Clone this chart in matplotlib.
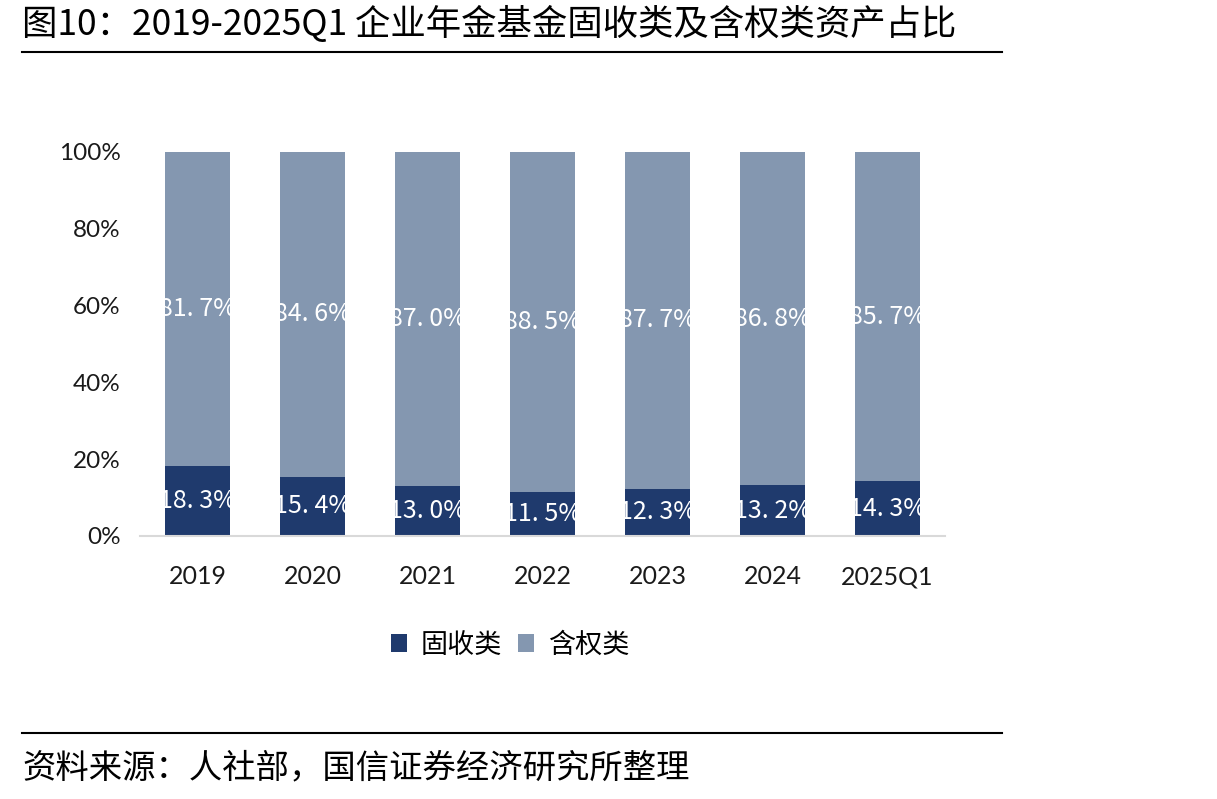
import matplotlib
matplotlib.use("Agg")
import matplotlib.pyplot as plt
from matplotlib.patches import Patch
from matplotlib.lines import Line2D

plt.rcParams['font.family'] = ['Noto Sans CJK SC', 'DejaVu Sans']

categories = ["2019", "2020", "2021", "2022", "2023", "2024", "2025Q1"]
fixed_income = [18.3, 15.4, 13.0, 11.5, 12.3, 13.2, 14.3]
equity = [81.7, 84.6, 87.0, 88.5, 87.7, 86.8, 85.7]
y_ticks = [0, 20, 40, 60, 80, 100]
series_names = ["固收类", "含权类"]
title = "图10：2019-2025Q1 企业年金基金固收类及含权类资产占比"
source = "资料来源：人社部，国信证券经济研究所整理"

c_dark = "#1F3A6D"
c_light = "#8497B0"

W, H = 1217, 799
fig = plt.figure(figsize=(W / 100, H / 100), dpi=100)

def fx(px):
    return px / W

def fy(py):
    return 1 - py / H

ax = fig.add_axes([fx(140), fy(536), fx(945) - fx(140), fy(152) - fy(536)])
x = list(range(len(categories)))
bw = 0.565
b1 = ax.bar(x, fixed_income, width=bw, color=c_dark, zorder=2)
b2 = ax.bar(x, equity, width=bw, bottom=fixed_income, color=c_light, zorder=2)

def fmt(v):
    return f"{v:.1f}%".replace(".", ". ")

for bars, vals, bottoms in ((b1, fixed_income, [0] * len(x)), (b2, equity, fixed_income)):
    for rect, v, b in zip(bars, vals, bottoms):
        t = ax.text(rect.get_x() + rect.get_width() / 2, b + v / 2, fmt(v),
                    ha="center", va="center", color="white", fontsize=18, zorder=3)
        t.set_clip_path(rect)

ax.set_xlim(-0.5, len(x) - 0.5)
ax.set_ylim(0, 100)
ax.set_yticks(y_ticks)
ax.set_yticklabels([f"{v}%" for v in y_ticks], fontfamily="Lato", fontsize=17.5, color="#1a1a1a")
ax.set_xticks(x)
ax.set_xticklabels(categories, fontfamily="Lato", fontsize=18, color="#1a1a1a")
ax.tick_params(axis="both", length=0)
ax.tick_params(axis="x", pad=21)
ax.tick_params(axis="y", pad=14)
for s in ("top", "right", "left"):
    ax.spines[s].set_visible(False)
ax.spines["bottom"].set_color("#D9D9D9")
ax.spines["bottom"].set_linewidth(1.5)

handles = [Patch(facecolor=c_dark, label=series_names[0]),
           Patch(facecolor=c_light, label=series_names[1])]
fig.legend(handles=handles, loc="center", bbox_to_anchor=(fx(510), fy(645)), ncol=2,
           frameon=False, fontsize=19.5, handlelength=0.6, handleheight=0.6,
           handletextpad=0.5, columnspacing=0.6)

fig.text(fx(22), fy(24), title, fontsize=25.5, ha="left", va="center", color="black")
fig.add_artist(Line2D([fx(22), fx(1002)], [fy(52), fy(52)], color="black", lw=1.5))
fig.add_artist(Line2D([fx(22), fx(1002)], [fy(733), fy(733)], color="black", lw=1.5))
fig.text(fx(22), fy(768), source, fontsize=24, ha="left", va="center", color="black")

fig.savefig("out.png", dpi=100)
